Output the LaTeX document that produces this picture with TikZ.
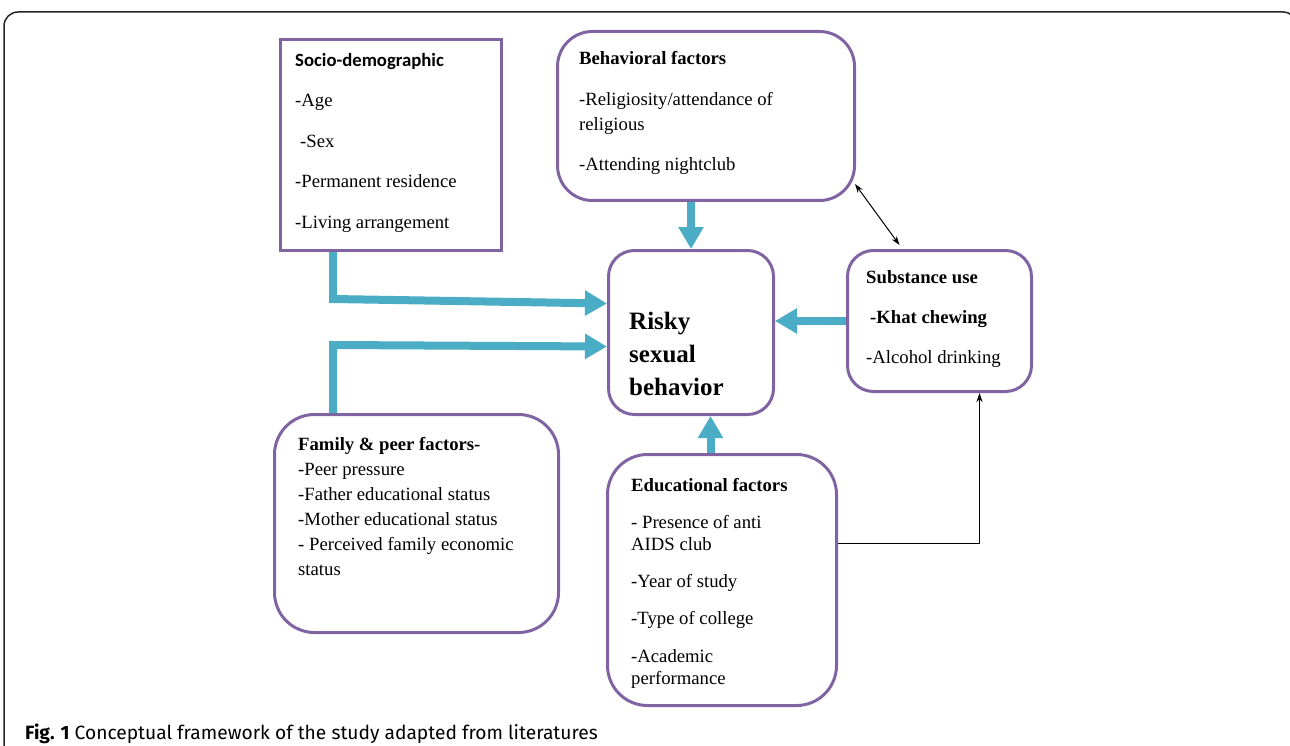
\documentclass[tikz,border=0pt]{standalone}
\usepackage{fontspec}
\setmainfont{Liberation Serif}
\newfontfamily\carlito{Carlito}
\newfontfamily\capfont{Fira Sans}
\usetikzlibrary{calc,arrows.meta}
\definecolor{boxpurple}{HTML}{8064A2}
\definecolor{arrowteal}{HTML}{4BACC6}

\begin{document}
\begin{tikzpicture}[x=1pt, y=-1pt,
        box/.style = {draw=boxpurple, line width=3pt, inner sep=0pt, anchor=north west},
        txt/.style = {anchor=north west, inner sep=0pt, align=left},
        fat/.style = {draw=arrowteal, line width=8pt, -{Triangle[length=22pt, width=24pt]}},
        link/.style = {draw=black, line width=1pt}]
        \useasboundingbox (0,0) rectangle (1290,746);
        \draw[line width=1.5pt, draw=black!85, rounded corners=14]
            (4,760) -- (4,12) -- (1297,12) -- (1297,760);
        \node[box, minimum width=221, minimum height=211] at (279,38) (socio_demo) {};
        \node[box, rounded corners=35, minimum width=297, minimum height=169] at (556,30) (behavioral) {};
        \node[box, rounded corners=26, minimum width=165, minimum height=164] at (607,249) (risky) {};
        \node[box, rounded corners=26, minimum width=184, minimum height=141] at (846,249) (substance) {};
        \node[box, rounded corners=40, minimum width=284, minimum height=218] at (273,413) (family_peer) {};
        \node[box, rounded corners=40, minimum width=229, minimum height=251] at (606,453) (educational) {};
        \node[txt, font=\fontsize{18.7}{40.5}\selectfont]
            at ($ (socio_demo.north west) + (16,15) $) (socio_text)
            {{\carlito\bfseries Socio-demographic}\\-Age\\\hspace*{5pt}-Sex\\-Permanent residence\\-Living arrangement};
        \node[txt, font=\fontsize{18.7}{25}\selectfont]
            at ($ (behavioral.north west) + (23,21) $) (behavioral_text)
            {\textbf{Behavioral factors}\\[16pt]-Religiosity/attendance of\\religious\\[15pt]-Attending nightclub};
        \node[txt, font=\fontsize{25}{33}\selectfont\bfseries]
            at ($ (risky.north west) + (22,63) $) (risky_text) {Risky\\sexual\\behavior};
        \node[txt, font=\fontsize{18.7}{40}\selectfont]
            at ($ (substance.north west) + (20,21) $) (substance_text)
            {\textbf{Substance use}\\\hspace*{4pt}\textbf{-Khat chewing}\\-Alcohol drinking};
        \node[txt, font=\fontsize{18.7}{25}\selectfont]
            at ($ (family_peer.north west) + (25,24) $) (family_text)
            {\textbf{Family \& peer factors-}\\-Peer pressure\\-Father educational status\\-Mother educational status\\- Perceived family economic\\status};
        \node[txt, font=\fontsize{18.7}{22}\selectfont]
            at ($ (educational.north west) + (25,25) $) (educational_text)
            {\textbf{Educational factors}\\[15pt]- Presence of anti\\AIDS club\\[15pt]-Year of study\\[15pt]-Type of college\\[16pt]-Academic\\performance};
        \node[anchor=base west, inner sep=0pt, font=\capfont\fontsize{19.2}{22}\selectfont]
            at (25,739) (caption) {\textbf{Fig. 1} Conceptual framework of the study adapted from literatures};
        % thick arrows into risky sexual behavior
        \draw[fat] ($ (socio_demo.south west) + (54,0) $) -- ++(0,47) -- ($ (risky.west) + (0,-29) $);
        \draw[fat] ($ (family_peer.north west) + (60,0) $) -- ++(0,-68) -- ($ (risky.west) + (0,14) $);
        \draw[fat] (behavioral.south -| risky.north) -- (risky.north);
        \draw[fat] ($ (educational.north) + (-11.5,0) $) -- ($ (risky.south) + (19.5,0) $);
        \draw[fat] (substance.west) -- (substance.west -| risky.east);
        % thin links
        \draw[link, {Stealth[length=9pt, width=6pt]}-{Stealth[length=9pt, width=6pt]}]
            ($ (behavioral.south east) + (-1,-18) $) -- ($ (substance.north) + (-40,-4) $);
        \draw[link, -{Stealth[length=9pt, width=6pt]}]
            ($ (educational.east) + (0,-36.5) $) -| ($ (substance.south) + (40,0) $);
    \end{tikzpicture}
\end{document}
